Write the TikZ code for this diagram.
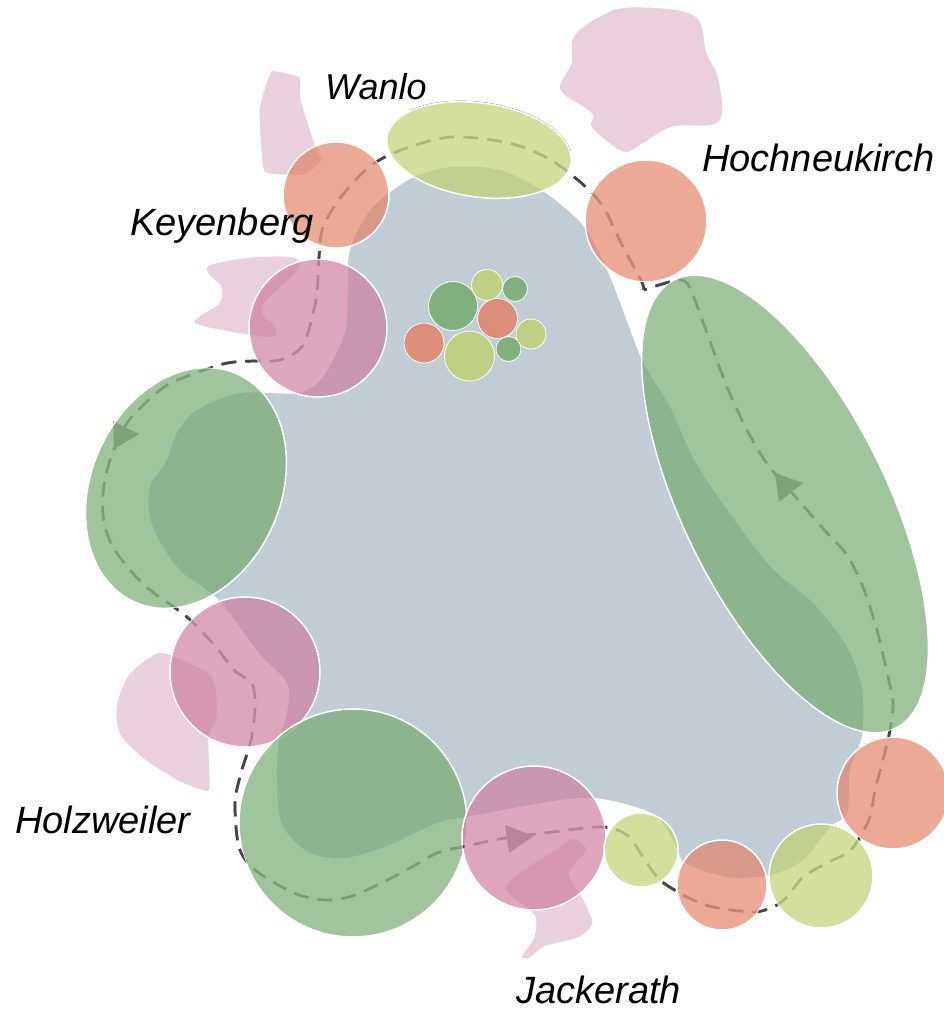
\documentclass[tikz,border=0pt]{standalone}
\usepackage{fontspec}
\setmainfont{Liberation Sans}
\definecolor{blobc}{HTML}{C0CDD5}
\definecolor{palec}{HTML}{E9D0DC}
\definecolor{gc}{HTML}{77AB71}
\definecolor{oc}{HTML}{E28469}
\definecolor{pc}{HTML}{CE809F}
\definecolor{yc}{HTML}{C0D174}
\definecolor{routedark}{HTML}{454545}
\definecolor{routemute}{HTML}{808080}
\definecolor{tipc}{HTML}{909090}
\newcommand{\routepath}{plot[smooth,tension=0.5] coordinates {
 (644,290)(641,280)(623,247)(605,210)(587,188)(551,160)(509,143)(451,137)(401,150)(369,167)(341,197)(323,227)(319,257)
 (316,300)(303,345)(280,360)(253,361)(223,364)(173,382)(152,397)(127,423)(110,460)(103,493)(104,523)(113,547)(130,570)(150,590)(187,617)
 (216,647)(234,670)(252,684)(255,707)(251,740)(241,773)(235,803)(239,847)(255,870)(294,893)(326,900)(355,895)(401,873)(437,853)(462,847)(505,838)(544,833)(601,827)
 (627,835)(643,857)(660,880)(687,897)(713,907)(753,912)(773,907)(787,897)(803,877)(827,863)(847,853)(857,842)(870,817)(875,790)(883,760)(890,730)(893,703)(888,677)(877,630)(863,587)(847,555)(827,533)(800,502)(768,465)(747,430)(727,387)(707,333)(690,288)(680,280)(659,285)(644,290)}}
\tikzset{
  zone/.style={draw=white,line width=1.5pt,fill opacity=0.7},
  gzone/.style={zone,fill=gc},
  ozone/.style={zone,fill=oc},
  pzone/.style={zone,fill=pc},
  yzone/.style={zone,fill=yc},
  palezone/.style={draw=white,line width=1pt,fill=palec},
  small/.style={line width=0.8pt,draw=white,fill opacity=0.85},
  routeline/.style={line width=2.7pt,dash pattern=on 15pt off 9pt},
  tip/.style={fill=tipc,draw=none},
  place/.style={anchor=base west,font=\fontsize{38}{40}\selectfont\itshape,text=black,inner sep=0pt}
}
\begin{document}
\begin{tikzpicture}[x=1pt,y=-1pt]
\path[use as bounding box] (0,0) rectangle (944,1010);
\clip (0,0) rectangle (944,1010);
% central field
\fill[blobc] plot[smooth cycle,tension=0.5] coordinates {
 (350,250)(372,208)(412,178)(451,167)(500,170)(544,192)(585,228)(612,282)(642,360)(670,407)(700,470)(767,563)(813,603)(847,647)(862,690)(862,735)
 (850,770)(847,813)(830,827)(803,860)(770,875)(727,877)(685,863)(677,848)(655,815)(603,799)(560,800)(466,817)(437,823)(384,847)(344,858)(310,853)(285,830)(278,803)(278,747)(287,713)(287,683)(259,653)(219,600)
 (183,573)(163,547)(150,517)(150,487)(167,460)(177,433)(197,410)(240,393)(298,393)(323,377)(345,333)(348,290)};
% pale village areas
\draw[palezone] plot[smooth cycle,tension=0.6] coordinates {(573,37)(598,17)(630,7)(694,15)(707,53)(719,80)(719,122)(673,127)(644,143)(623,152)(592,128)(591,113)(560,90)(571,63)};
\draw[palezone] plot[smooth cycle,tension=0.2] coordinates {(271,71)(300,77)(301,100)(316,147)(322,160)(305,175)(264,172)(259,110)};
\draw[palezone] plot[smooth cycle,tension=0.5] coordinates {(209,265)(251,257)(294,257)(298,270)(262,307)(276,327)(273,337)(248,335)(194,323)(219,303)(221,287)(209,275)};
\draw[palezone] plot[smooth cycle,tension=0.5] coordinates {(157,653)(176,657)(212,677)(217,717)(209,737)(210,787)(201,790)(176,780)(141,757)(119,733)(117,703)(130,673)};
\draw[palezone] plot[smooth cycle,tension=0.4] coordinates {(573,838)(587,850)(569,873)(584,900)(593,923)(580,937)(544,947)(530,958)(521,957)(534,937)(534,915)(505,890)(519,873)(559,847)};
% route, seen through the zones
\draw[routemute,routeline] \routepath;
\fill[tip] (113,421) -- (139,434) -- (114,449) -- cycle;
\fill[tip] (505,825) -- (534,836) -- (509,853) -- cycle;
\fill[tip] (775,473) -- (803,483) -- (779,502) -- cycle;
% thin edge on Wanlo
\begin{scope}
\clip (410,90) rectangle (575,150);
\draw[routedark!70,line width=0.5pt] (479,150) ellipse [x radius=93.8,y radius=47.8,rotate=-8];
\end{scope}
% zones
\draw[ozone] (336,195) circle [radius=53];
\draw[ozone] (646,221) circle [radius=61];
\draw[pzone] (318,328) circle [radius=69];
\draw[pzone] (245,672) circle [radius=75];
\draw[gzone] (353,823) circle [radius=114];
\draw[pzone] (534,838) circle [radius=72];
\draw[yzone] (641,850) circle [radius=37];
\draw[ozone] (722,885) circle [radius=45];
\draw[yzone] (821,876) circle [radius=52];
\draw[ozone] (893,793) circle [radius=56];
\draw[yzone] (479,150) ellipse [x radius=93,y radius=47,rotate=-8];
\draw[gzone] (186,488) ellipse [x radius=94.6,y radius=125,rotate=-24.4];
\draw[gzone] (785,504) ellipse [x radius=250,y radius=102,rotate=-63.8];
% route in the gaps between zones
\begin{scope}[even odd rule]
\clip (0,0) rectangle (944,1010)
 (336,195) circle [radius=53] (646,221) circle [radius=61] (318,328) circle [radius=69]
 (245,672) circle [radius=75] (353,823) circle [radius=114] (534,838) circle [radius=72]
 (641,850) circle [radius=37] (722,885) circle [radius=45] (821,876) circle [radius=52]
 (893,793) circle [radius=56] (479,150) ellipse [x radius=93,y radius=47,rotate=-8]
 (186,488) ellipse [x radius=94.6,y radius=125,rotate=-24.4]
 (785,504) ellipse [x radius=250,y radius=102,rotate=-63.8];
\draw[routedark,routeline,nonzero rule] \routepath;
\end{scope}
% cluster
\draw[small,fill=gc] (453,306) circle [radius=24.5];
\draw[small,fill=yc] (487,285) circle [radius=15.5];
\draw[small,fill=gc] (515,289) circle [radius=12.5];
\draw[small,fill=oc] (497.5,318.5) circle [radius=20];
\draw[small,fill=yc] (531,334) circle [radius=15];
\draw[small,fill=gc] (508.5,349) circle [radius=12.5];
\draw[small,fill=yc] (469.5,356) circle [radius=25];
\draw[small,fill=oc] (424,343) circle [radius=20];
% labels
\node[place,font=\fontsize{36}{40}\selectfont\itshape] (wanlo) at (325,99) {Wanlo};
\node[place] (hoch) at (702,171) {Hochneukirch};
\node[place] (keyen) at (130,235) {Keyenberg};
\node[place] (holz) at (15,833) {Holzweiler};
\node[place] (jack) at (516,1003) {Jackerath};
\end{tikzpicture}
\end{document}
